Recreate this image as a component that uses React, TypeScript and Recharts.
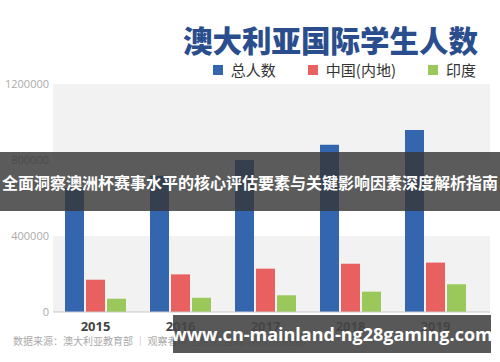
import { Bar, BarChart, CartesianGrid, XAxis, YAxis } from 'recharts';

const years = ['2015', '2016', '2017', '2018', '2019'];
const total = [652000, 717000, 800000, 880000, 958000];
const china = [170000, 198000, 228000, 254000, 260000];
const india = [70000, 75000, 88000, 107000, 146000];
const yTicks = [0, 400000, 800000, 1200000];

const series = [
  { key: 'total', name: '总人数', color: '#3466b0' },
  { key: 'china', name: '中国(内地)', color: '#e8605f' },
  { key: 'india', name: '印度', color: '#9bc85a' },
];

const data = years.map((year, i) => ({
  year,
  total: total[i],
  china: china[i],
  india: india[i],
}));

const cjk = '"Noto Sans CJK SC", "Noto Sans", sans-serif';

function LegendRow() {
  return (
    <div
      style={{
        position: 'absolute',
        right: 24,
        top: 60,
        display: 'flex',
        fontFamily: cjk,
        fontSize: 15,
        color: '#333',
        lineHeight: '20px',
      }}
    >
      {series.map((s, i) => (
        <div key={s.key} style={{ display: 'flex', alignItems: 'center', marginLeft: i === 0 ? 0 : 32 }}>
          <span style={{ width: 10, height: 10, background: s.color, marginRight: 8 }} />
          {s.name}
        </div>
      ))}
    </div>
  );
}

export default function App() {
  return (
    <div style={{ position: 'absolute', left: 0, top: 0, width: 500, height: 362, background: '#fff', overflow: 'hidden' }}>
      <BarChart
        width={500}
        height={362}
        data={data}
        margin={{ top: 84, right: 10, left: 0, bottom: 0 }}
        barSize={19}
        barGap={2}
      >
        <CartesianGrid
          vertical={false}
          stroke="none"
          horizontalFill={['#f2f2f2', '#ffffff', '#f2f2f2']}
        />
        <XAxis
          dataKey="year"
          height={50}
          padding={{ left: 0, right: 12 }}
          axisLine={{ stroke: '#c8c8c8' }}
          tickLine={false}
          tickMargin={4}
          tick={{ fontSize: 13, fontWeight: 700, fill: '#444', fontFamily: '"Open Sans", sans-serif' }}
        />
        <YAxis
          width={53}
          domain={[0, 1200000]}
          ticks={yTicks}
          axisLine={false}
          tickLine={false}
          tickSize={0}
          tickMargin={4}
          tick={{ fontSize: 11, fill: '#aaa', fontFamily: '"Open Sans", sans-serif' }}
        />
        {series.map((s) => (
          <Bar key={s.key} dataKey={s.key} name={s.name} fill={s.color} isAnimationActive={false} />
        ))}
      </BarChart>

      <div
        style={{
          position: 'absolute',
          right: 22,
          top: 21,
          fontFamily: cjk,
          fontWeight: 900,
          fontSize: 29.5,
          color: '#2a4d8e',
          lineHeight: '36px',
        }}
      >
        澳大利亚国际学生人数
      </div>

      <LegendRow />

      <div
        style={{
          position: 'absolute',
          left: 13,
          top: 333,
          fontFamily: cjk,
          fontSize: 10,
          color: '#aaa',
          whiteSpace: 'nowrap',
        }}
      >
        数据来源：澳大利亚教育部 ｜ 观察者网 王花花(监制) 吴欣然(制图)
      </div>

      <div
        style={{
          position: 'absolute',
          left: 0,
          top: 152,
          width: 500,
          height: 59,
          background: 'rgba(55,55,55,0.82)',
          display: 'flex',
          alignItems: 'center',
          justifyContent: 'center',
          color: '#fff',
          fontFamily: cjk,
          fontWeight: 700,
          fontSize: 16,
          whiteSpace: 'nowrap',
        }}
      >
        全面洞察澳洲杯赛事水平的核心评估要素与关键影响因素深度解析指南
      </div>

      <div
        style={{
          position: 'absolute',
          left: 173,
          top: 315,
          width: 318,
          height: 38,
          background: 'rgba(70,70,70,0.9)',
          display: 'flex',
          alignItems: 'center',
          justifyContent: 'center',
          color: '#fff',
          fontFamily: '"Open Sans", "Noto Sans", sans-serif',
          fontWeight: 700,
          fontSize: 18,
          whiteSpace: 'nowrap',
        }}
      >
        www.cn-mainland-ng28gaming.com
      </div>
    </div>
  );
}
